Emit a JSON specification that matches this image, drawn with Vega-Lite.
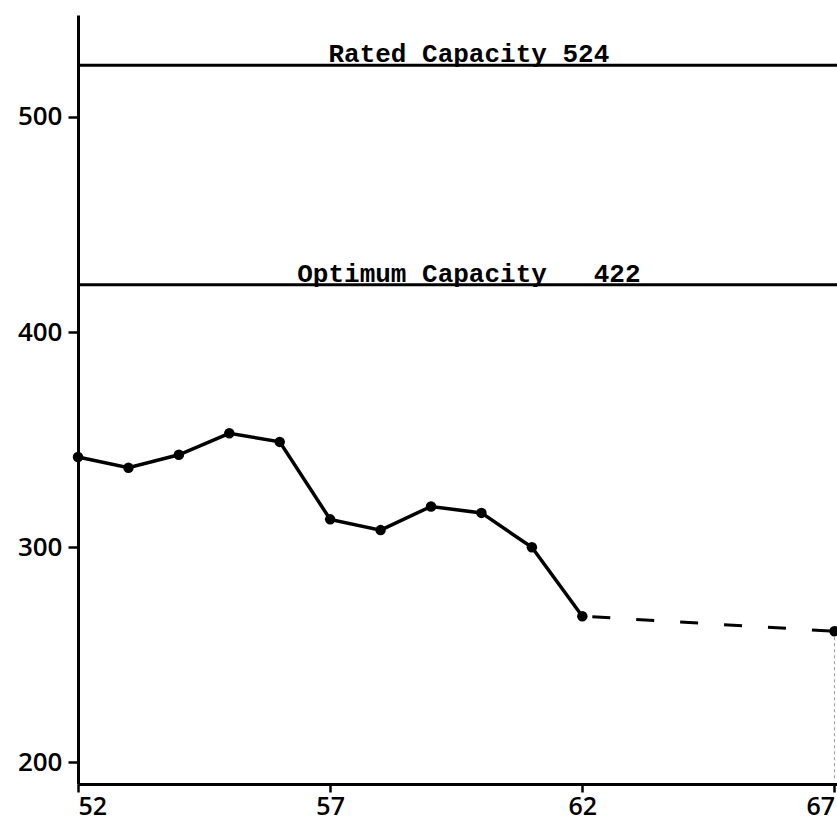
{
  "$schema": "https://vega.github.io/schema/vega-lite/v6.json",
  "width": 759,
  "height": 769,
  "autosize": {"type": "none"},
  "padding": {"left": 78, "top": 15, "right": 0, "bottom": 36},
  "background": "white",
  "config": {
    "view": {"stroke": null},
    "axis": {
      "domainColor": "black",
      "domainWidth": 3,
      "tickColor": "black",
      "tickWidth": 2.5,
      "tickSize": 10,
      "grid": false,
      "labelFont": "Open Sans",
      "labelFontWeight": 600,
      "labelFontSize": 26,
      "labelColor": "black",
      "title": null
    }
  },
  "datasets": {
    "series": [
      {"year": 52, "value": 342},
      {"year": 53, "value": 337},
      {"year": 54, "value": 343},
      {"year": 55, "value": 353},
      {"year": 56, "value": 349},
      {"year": 57, "value": 313},
      {"year": 58, "value": 308},
      {"year": 59, "value": 319},
      {"year": 60, "value": 316},
      {"year": 61, "value": 300},
      {"year": 62, "value": 268},
      {"year": 67, "value": 261}
    ],
    "capacity": [
      {"label": "Rated Capacity 524", "value": 524},
      {"label": "Optimum Capacity\u00a0\u00a0\u00a0422", "value": 422}
    ]
  },
  "encoding": {
    "x": {
      "type": "quantitative",
      "scale": {"domain": [52, 67.05], "nice": false, "zero": false},
      "axis": {
        "values": [52, 57, 62, 67],
        "tickSize": 8,
        "labelPadding": 2,
        "labelFontSize": 25,
        "labelFlush": false,
        "labelAlign": {
          "condition": [
            {"test": "datum.value >= 66", "value": "right"},
            {"test": "datum.value <= 53", "value": "left"}
          ],
          "value": "center"
        }
      }
    },
    "y": {
      "type": "quantitative",
      "scale": {"domain": [190, 547.4], "nice": false, "zero": false},
      "axis": {"values": [200, 300, 400, 500], "labelPadding": 6}
    }
  },
  "layer": [
    {
      "mark": {"type": "rule", "color": "black", "strokeWidth": 3},
      "encoding": {"y": {"datum": 547.4, "type": "quantitative"}}
    },
    {
      "data": {"name": "capacity"},
      "mark": {"type": "rule", "color": "black", "strokeWidth": 3},
      "encoding": {"y": {"field": "value", "type": "quantitative"}}
    },
    {
      "data": {"name": "capacity"},
      "mark": {"type": "text", "font": "Liberation Mono", "fontSize": 26, "fontWeight": "bold", "color": "black", "align": "center", "baseline": "alphabetic", "dy": -3},
      "encoding": {
        "x": {"datum": 59.75, "type": "quantitative"},
        "y": {"field": "value", "type": "quantitative"},
        "text": {"field": "label"}
      }
    },
    {
      "data": {"name": "series"},
      "transform": [{"filter": "datum.year == 67"}],
      "mark": {"type": "rule", "color": "#999", "strokeWidth": 1, "strokeDash": [3, 3]},
      "encoding": {
        "x": {"field": "year", "type": "quantitative"},
        "y": {"field": "value", "type": "quantitative"},
        "y2": {"datum": 192}
      }
    },
    {
      "data": {"name": "series"},
      "transform": [{"filter": "datum.year <= 62"}],
      "mark": {"type": "line", "color": "black", "strokeWidth": 3.5},
      "encoding": {
        "x": {"field": "year", "type": "quantitative"},
        "y": {"field": "value", "type": "quantitative"}
      }
    },
    {
      "data": {"name": "series"},
      "transform": [{"filter": "datum.year >= 62"}],
      "mark": {"type": "line", "color": "black", "strokeWidth": 3, "strokeDash": [18, 26], "strokeDashOffset": -10},
      "encoding": {
        "x": {"field": "year", "type": "quantitative"},
        "y": {"field": "value", "type": "quantitative"}
      }
    },
    {
      "data": {"name": "series"},
      "mark": {"type": "circle", "color": "black", "opacity": 1, "size": 110},
      "encoding": {
        "x": {"field": "year", "type": "quantitative"},
        "y": {"field": "value", "type": "quantitative"}
      }
    }
  ]
}
